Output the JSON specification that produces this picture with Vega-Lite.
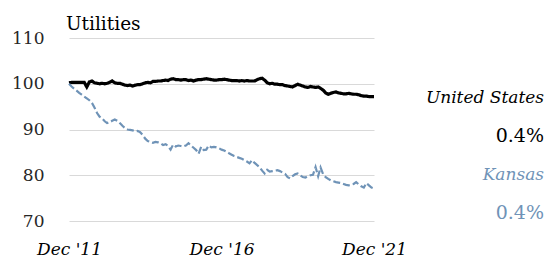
{
  "$schema": "https://vega.github.io/schema/vega-lite/v6.json",
  "padding": {"left": 11, "top": 14, "right": 5, "bottom": 5},
  "spacing": 0,
  "bounds": "flush",
  "config": {
    "view": {"stroke": null},
    "font": "DejaVu Serif"
  },
  "datasets": {
    "series": [
      {"d":"2011-12","United States":100.2,"Kansas":100.0},
      {"d":"2012-01","United States":100.3,"Kansas":99.4},
      {"d":"2012-02","United States":100.3,"Kansas":98.9},
      {"d":"2012-03","United States":100.3,"Kansas":98.5},
      {"d":"2012-04","United States":100.3,"Kansas":98.0},
      {"d":"2012-05","United States":100.3,"Kansas":97.6},
      {"d":"2012-06","United States":100.3,"Kansas":97.2},
      {"d":"2012-07","United States":99.3,"Kansas":96.8},
      {"d":"2012-08","United States":100.4,"Kansas":96.4},
      {"d":"2012-09","United States":100.6,"Kansas":95.8},
      {"d":"2012-10","United States":100.2,"Kansas":94.8},
      {"d":"2012-11","United States":100.1,"Kansas":93.6},
      {"d":"2012-12","United States":100.0,"Kansas":92.8},
      {"d":"2013-01","United States":100.1,"Kansas":92.4},
      {"d":"2013-02","United States":100.0,"Kansas":91.8},
      {"d":"2013-03","United States":100.1,"Kansas":91.4},
      {"d":"2013-04","United States":100.3,"Kansas":91.6},
      {"d":"2013-05","United States":100.6,"Kansas":91.9},
      {"d":"2013-06","United States":100.2,"Kansas":92.2},
      {"d":"2013-07","United States":100.1,"Kansas":91.9},
      {"d":"2013-08","United States":100.1,"Kansas":91.4},
      {"d":"2013-09","United States":99.9,"Kansas":90.8},
      {"d":"2013-10","United States":99.7,"Kansas":90.3},
      {"d":"2013-11","United States":99.6,"Kansas":90.0},
      {"d":"2013-12","United States":99.7,"Kansas":89.9},
      {"d":"2014-01","United States":99.5,"Kansas":89.8},
      {"d":"2014-02","United States":99.7,"Kansas":89.6},
      {"d":"2014-03","United States":99.8,"Kansas":89.7},
      {"d":"2014-04","United States":99.8,"Kansas":89.4},
      {"d":"2014-05","United States":100.0,"Kansas":88.8},
      {"d":"2014-06","United States":100.2,"Kansas":88.0},
      {"d":"2014-07","United States":100.3,"Kansas":87.5},
      {"d":"2014-08","United States":100.2,"Kansas":87.3},
      {"d":"2014-09","United States":100.5,"Kansas":87.1},
      {"d":"2014-10","United States":100.5,"Kansas":87.3},
      {"d":"2014-11","United States":100.6,"Kansas":87.2},
      {"d":"2014-12","United States":100.6,"Kansas":87.0},
      {"d":"2015-01","United States":100.7,"Kansas":86.6},
      {"d":"2015-02","United States":100.8,"Kansas":86.8},
      {"d":"2015-03","United States":100.7,"Kansas":86.4},
      {"d":"2015-04","United States":101.0,"Kansas":85.6},
      {"d":"2015-05","United States":101.1,"Kansas":86.7},
      {"d":"2015-06","United States":100.9,"Kansas":86.3},
      {"d":"2015-07","United States":100.9,"Kansas":86.5},
      {"d":"2015-08","United States":100.8,"Kansas":86.4},
      {"d":"2015-09","United States":100.9,"Kansas":86.3},
      {"d":"2015-10","United States":100.9,"Kansas":86.5},
      {"d":"2015-11","United States":100.7,"Kansas":87.0},
      {"d":"2015-12","United States":100.8,"Kansas":86.5},
      {"d":"2016-01","United States":100.6,"Kansas":86.0},
      {"d":"2016-02","United States":100.8,"Kansas":85.5},
      {"d":"2016-03","United States":100.9,"Kansas":84.7},
      {"d":"2016-04","United States":100.9,"Kansas":86.2},
      {"d":"2016-05","United States":101.0,"Kansas":85.5},
      {"d":"2016-06","United States":101.1,"Kansas":85.6},
      {"d":"2016-07","United States":101.0,"Kansas":86.5},
      {"d":"2016-08","United States":100.9,"Kansas":86.1},
      {"d":"2016-09","United States":100.8,"Kansas":86.2},
      {"d":"2016-10","United States":100.8,"Kansas":86.1},
      {"d":"2016-11","United States":100.9,"Kansas":85.9},
      {"d":"2016-12","United States":100.9,"Kansas":85.6},
      {"d":"2017-01","United States":101.0,"Kansas":85.4},
      {"d":"2017-02","United States":100.9,"Kansas":85.1},
      {"d":"2017-03","United States":100.8,"Kansas":84.8},
      {"d":"2017-04","United States":100.7,"Kansas":84.5},
      {"d":"2017-05","United States":100.7,"Kansas":84.2},
      {"d":"2017-06","United States":100.7,"Kansas":84.0},
      {"d":"2017-07","United States":100.6,"Kansas":83.8},
      {"d":"2017-08","United States":100.7,"Kansas":83.6},
      {"d":"2017-09","United States":100.6,"Kansas":83.3},
      {"d":"2017-10","United States":100.7,"Kansas":83.0},
      {"d":"2017-11","United States":100.6,"Kansas":82.6},
      {"d":"2017-12","United States":100.6,"Kansas":83.3},
      {"d":"2018-01","United States":100.6,"Kansas":82.7},
      {"d":"2018-02","United States":100.9,"Kansas":82.2},
      {"d":"2018-03","United States":101.1,"Kansas":81.8},
      {"d":"2018-04","United States":101.2,"Kansas":81.0},
      {"d":"2018-05","United States":100.8,"Kansas":80.4},
      {"d":"2018-06","United States":100.2,"Kansas":81.2},
      {"d":"2018-07","United States":100.0,"Kansas":80.8},
      {"d":"2018-08","United States":100.1,"Kansas":80.9},
      {"d":"2018-09","United States":99.9,"Kansas":81.0},
      {"d":"2018-10","United States":99.9,"Kansas":81.1},
      {"d":"2018-11","United States":99.8,"Kansas":80.9},
      {"d":"2018-12","United States":99.8,"Kansas":80.6},
      {"d":"2019-01","United States":99.6,"Kansas":80.3},
      {"d":"2019-02","United States":99.5,"Kansas":79.6},
      {"d":"2019-03","United States":99.4,"Kansas":79.3},
      {"d":"2019-04","United States":99.3,"Kansas":79.8},
      {"d":"2019-05","United States":99.6,"Kansas":80.2},
      {"d":"2019-06","United States":99.9,"Kansas":80.4},
      {"d":"2019-07","United States":99.7,"Kansas":80.0},
      {"d":"2019-08","United States":99.5,"Kansas":79.6},
      {"d":"2019-09","United States":99.3,"Kansas":79.5},
      {"d":"2019-10","United States":99.2,"Kansas":79.8},
      {"d":"2019-11","United States":99.4,"Kansas":80.0},
      {"d":"2019-12","United States":99.3,"Kansas":80.1},
      {"d":"2020-01","United States":99.2,"Kansas":81.8},
      {"d":"2020-02","United States":99.3,"Kansas":79.8},
      {"d":"2020-03","United States":99.0,"Kansas":81.7},
      {"d":"2020-04","United States":98.6,"Kansas":80.2},
      {"d":"2020-05","United States":98.0,"Kansas":79.6},
      {"d":"2020-06","United States":97.7,"Kansas":79.2},
      {"d":"2020-07","United States":97.9,"Kansas":78.9},
      {"d":"2020-08","United States":98.1,"Kansas":78.7},
      {"d":"2020-09","United States":98.2,"Kansas":78.5},
      {"d":"2020-10","United States":98.0,"Kansas":78.4},
      {"d":"2020-11","United States":97.9,"Kansas":78.3},
      {"d":"2020-12","United States":97.8,"Kansas":78.1},
      {"d":"2021-01","United States":97.8,"Kansas":77.9},
      {"d":"2021-02","United States":97.9,"Kansas":77.8},
      {"d":"2021-03","United States":97.8,"Kansas":77.9},
      {"d":"2021-04","United States":97.7,"Kansas":78.1},
      {"d":"2021-05","United States":97.7,"Kansas":78.5},
      {"d":"2021-06","United States":97.6,"Kansas":78.0},
      {"d":"2021-07","United States":97.4,"Kansas":77.6},
      {"d":"2021-08","United States":97.3,"Kansas":77.3},
      {"d":"2021-09","United States":97.3,"Kansas":78.3},
      {"d":"2021-10","United States":97.2,"Kansas":77.8},
      {"d":"2021-11","United States":97.2,"Kansas":77.3},
      {"d":"2021-12","United States":97.2,"Kansas":77.1}
    ],
    "labels": [
      {"line": 1, "text": "United States", "series": "United States", "kind": "name"},
      {"line": 2, "text": "0.4%", "series": "United States", "kind": "pct"},
      {"line": 3, "text": "Kansas", "series": "Kansas", "kind": "name"},
      {"line": 4, "text": "0.4%", "series": "Kansas", "kind": "pct"}
    ]
  },
  "hconcat": [
    {
      "width": 305,
      "height": 183,
      "title": {
        "text": "Utilities",
        "anchor": "start",
        "frame": "group",
        "fontSize": 18.5,
        "fontWeight": "normal",
        "color": "#000000",
        "offset": -4,
        "dx": -3
      },
      "data": {"name": "series"},
      "transform": [
        {"fold": ["United States", "Kansas"], "as": ["series", "value"]}
      ],
      "mark": {"type": "line", "clip": false},
      "encoding": {
        "x": {
          "field": "d",
          "type": "temporal",
          "scale": {"type": "utc", "domain": [{"year": 2011, "month": 12, "date": 1, "utc": true}, {"year": 2021, "month": 12, "date": 1, "utc": true}]},
          "axis": {
            "title": null,
            "grid": false,
            "domain": false,
            "ticks": false,
            "values": [
              {"year": 2011, "month": 12, "date": 1, "utc": true},
              {"year": 2016, "month": 12, "date": 1, "utc": true},
              {"year": 2021, "month": 12, "date": 1, "utc": true}
            ],
            "format": "%b '%y",
            "labelFontStyle": "italic",
            "labelFontSize": 17,
            "labelColor": "#000000",
            "labelPadding": 20,
            "labelOverlap": false,
            "labelFlush": false
          }
        },
        "y": {
          "field": "value",
          "type": "quantitative",
          "scale": {"domain": [70, 110], "nice": false, "zero": false},
          "axis": {
            "title": null,
            "values": [70, 80, 90, 100, 110],
            "domain": false,
            "ticks": false,
            "grid": true,
            "gridColor": "#d9d9d9",
            "gridWidth": 1,
            "labelFontSize": 17,
            "labelColor": "#262626",
            "labelPadding": 25
          }
        },
        "color": {
          "field": "series",
          "type": "nominal",
          "scale": {"domain": ["United States", "Kansas"], "range": ["#000000", "#6f93b7"]},
          "legend": null
        },
        "strokeWidth": {
          "field": "series",
          "type": "nominal",
          "scale": {"domain": ["United States", "Kansas"], "range": [3.2, 2.2]},
          "legend": null
        },
        "strokeDash": {
          "field": "series",
          "type": "nominal",
          "scale": {"domain": ["United States", "Kansas"], "range": [[1, 0], [7, 3]]},
          "legend": null
        }
      }
    },
    {
      "width": 170,
      "height": 183,
      "data": {"name": "labels"},
      "encoding": {
        "y": {
          "field": "line",
          "type": "ordinal",
          "scale": {"type": "point", "padding": 0.889, "align": 0.88},
          "axis": null
        },
        "x": {"value": "width"},
        "text": {"field": "text"},
        "color": {
          "field": "series",
          "type": "nominal",
          "scale": {"domain": ["United States", "Kansas"], "range": ["#000000", "#6f93b7"]},
          "legend": null
        }
      },
      "layer": [
        {
          "transform": [{"filter": "datum.kind === 'name'"}],
          "mark": {"type": "text", "align": "right", "baseline": "middle", "fontSize": 17, "fontStyle": "italic"}
        },
        {
          "transform": [{"filter": "datum.kind === 'pct'"}],
          "mark": {"type": "text", "align": "right", "baseline": "middle", "fontSize": 19}
        }
      ]
    }
  ]
}
